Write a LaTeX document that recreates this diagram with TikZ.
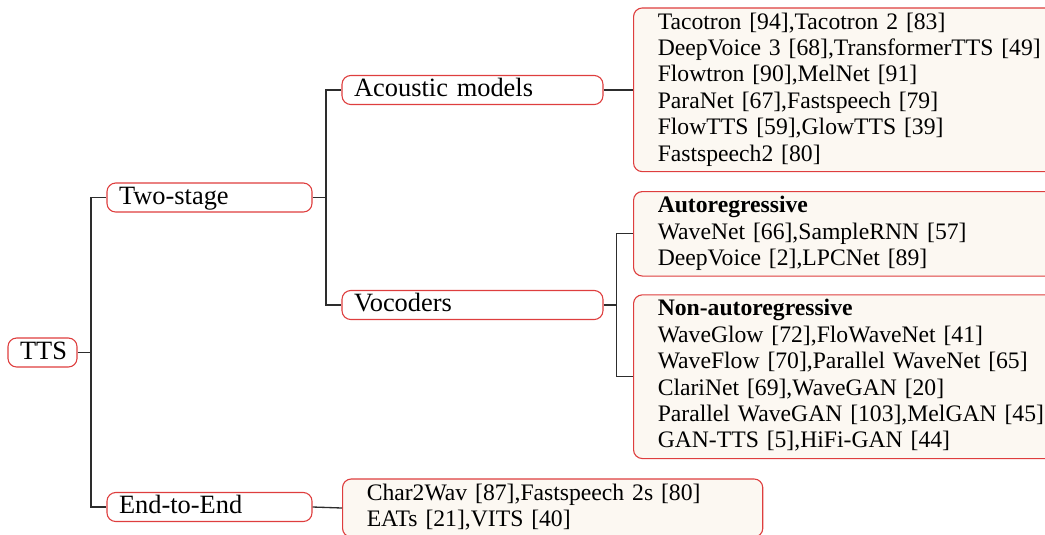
\documentclass[tikz,border=0pt]{standalone}
\usepackage{fontspec}
\setmainfont{Liberation Serif}
\usepackage{xcolor}
\usepackage{tikz}
\usetikzlibrary{positioning}
\definecolor{boxborder}{RGB}{222,62,62}
\definecolor{leaffill}{RGB}{252,248,242}
\definecolor{linkline}{RGB}{45,45,45}

\tikzset{
  branch/.style={draw=boxborder, line width=0.5pt, rounded corners=4pt, font=\large,
    align=left, inner xsep=5.5pt, inner ysep=0.6pt, text height=9pt, text depth=3pt},
  leaf/.style={branch, fill=leaffill, font=\fontsize{10.75}{12}\selectfont, inner xsep=11pt, inner ysep=1.2pt,
    text height=, text depth=, execute at begin node=\strut, execute at end node=\strut},
  link/.style={draw=linkline, line width=0.6pt},
}

\begin{document}
\begin{tikzpicture}[x=0.4545pt, y=-0.4545pt]
\path[use as bounding box, clip] (0,0) rectangle (1045,534);

% tree nodes
\node[branch, text width=20.4pt] (tts) at (42.5,352.5) {TTS};
\node[branch, text width=82.2pt] (twostage) at (209.5,197.5) {Two-stage};
\node[branch, text width=82.2pt] (endtoend) at (209.5,507) {End-to-End};
\node[branch, text width=107.6pt] (acoustic) at (472.5,90) {Acoustic models};
\node[branch, text width=107.6pt] (vocoders) at (472.5,305) {Vocoders};

% leaves
\node[leaf, text width=185pt, anchor=west] (acousticleaf) at (633,89.8)
  {Tacotron [94],Tacotron 2 [83]\\
   DeepVoice 3 [68],TransformerTTS [49]\\
   Flowtron [90],MelNet [91]\\
   ParaNet [67],Fastspeech [79]\\
   FlowTTS [59],GlowTTS [39]\\
   Fastspeech2 [80]};
\node[leaf, text width=185pt, anchor=west] (arleaf) at (633,233.8)
  {\textbf{Autoregressive}\\
   WaveNet [66],SampleRNN [57]\\
   DeepVoice [2],LPCNet [89]};
\node[leaf, text width=185pt, anchor=west] (narleaf) at (633,376.7)
  {\textbf{Non-autoregressive}\\
   WaveGlow [72],FloWaveNet [41]\\
   WaveFlow [70],Parallel WaveNet [65]\\
   ClariNet [69],WaveGAN [20]\\
   Parallel WaveGAN [103],MelGAN [45]\\
   GAN-TTS [5],HiFi-GAN [44]};
\node[leaf, text width=169pt, anchor=west] (e2eleaf) at (342,508)
  {Char2Wav [87],Fastspeech 2s [80]\\
   EATs [21],VITS [40]};

% junctions
\coordinate (rootfork) at (91,352.5);
\coordinate (twofork) at (326,197.5);
\coordinate (vocfork) at (616.7,305);

% connectors
\draw[link] (tts.east) -- (rootfork) |- (twostage.west);
\draw[link] (rootfork) |- (endtoend.west);
\draw[link] (twostage.east) -- (twofork) |- (acoustic.west);
\draw[link] (twofork) |- (vocoders.west);
\draw[link] (acoustic.east) -- (acousticleaf.west |- acoustic.east);
\draw[link] (vocoders.east) -- (vocfork) |- (arleaf.west);
\draw[link] (vocfork) |- (narleaf.west);
\draw[link] (endtoend.east) -- (e2eleaf.west);
\end{tikzpicture}
\end{document}
